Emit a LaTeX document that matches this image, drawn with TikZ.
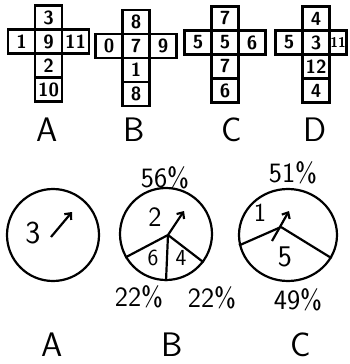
\documentclass[tikz,border=0pt]{standalone}
\usepackage{fontspec}
\usepackage{tikz}
\usetikzlibrary{arrows.meta,positioning,shapes.geometric}

\begin{document}
\begin{tikzpicture}[x=1pt, y=-1pt, node distance=0pt, line width=2.2pt,
  >={Straight Barb[length=5pt,width=9pt]},
  cell/.style={draw, line width=2.4pt, outer sep=0pt, inner sep=0pt,
    minimum width=27pt, minimum height=24pt, font=\sffamily\bfseries\fontsize{19}{19}\selectfont},
  netname/.style={font=\sffamily\fontsize{34}{34}\selectfont, inner sep=0pt},
  spinner/.style={draw, circle, line width=2.2pt, inner sep=0pt, minimum size=92pt},
  num/.style={font=\sffamily\fontsize{#1}{#1}\selectfont, inner sep=0pt},
  pct/.style={font=\sffamily\fontsize{28}{28}\selectfont, inner sep=0pt}]
  \useasboundingbox (0,0) rectangle (349,364);

  % nets
  \node[cell] (A9) at (48.5,41.5) {9};
  \node[cell, above=of A9] (A3) {3};
  \node[cell, left=of A9] (A1) {1};
  \node[cell, right=of A9] (A11) {11};
  \node[cell, below=of A9] (A2) {2};
  \node[cell, below=of A2] (A10) {10};

  \node[cell] (B7) at (136,46) {7};
  \node[cell, above=of B7] (B8) {8};
  \node[cell, left=of B7] (B0) {0};
  \node[cell, right=of B7] (B9) {9};
  \node[cell, below=of B7] (B1) {1};
  \node[cell, below=of B1] (B8b) {8};

  \node[cell] (C5) at (225,42.5) {5};
  \node[cell, above=of C5] (C7) {7};
  \node[cell, left=of C5] (C5b) {5};
  \node[cell, right=of C5] (C6) {6};
  \node[cell, below=of C5] (C7b) {7};
  \node[cell, below=of C7b] (C6b) {6};

  \node[cell] (D3) at (316,42.5) {3};
  \node[cell, above=of D3] (D4) {4};
  \node[cell, left=of D3] (D5) {5};
  \node[cell, right=of D3, minimum width=17pt, font=\sffamily\bfseries\fontsize{14}{14}\selectfont] (D11) {11};
  \node[cell, below=of D3] (D12) {12};
  \node[cell, below=of D12] (D4b) {4};

  \node[netname] (nA) at (47,130) {A};
  \node[netname] (nB) at (134,130) {B};
  \node[netname] (nC) at (232,130) {C};
  \node[netname] (nD) at (315,130) {D};

  % spinners
  \node[spinner] (sA) at (53,235) {};
  \node[num=32] (sA3) at (33,233) {3};
  \coordinate (aA) at (51,237);
  \coordinate (tA) at (72,212);
  \draw[->] (aA) -- (tA);

  \node[spinner] (sB) at (166,234) {};
  \coordinate (jB) at (168,235);
  \draw (jB) -- (sB.210) (jB) -- (sB.270) (jB) -- (sB.323);
  \node[num=28] (sB2) at (155,217) {2};
  \node[num=23] (sB6) at (153,258) {6};
  \node[num=23] (sB4) at (181,258) {4};
  \coordinate (tB) at (184,211);
  \draw[->] (jB) -- (tB);
  \node[pct] (pB1) at (165,178) {56\%};
  \node[pct] (pB2) at (139,297) {22\%};
  \node[pct] (pB3) at (212,298) {22\%};

  \node[spinner, ellipse, minimum width=98pt, minimum height=92pt] (sC) at (288,235) {};
  \coordinate (jC) at (281,227);
  \draw (jC) -- (sC.192) (jC) -- (sC.332);
  \node[num=26] (sC1) at (260,213) {1};
  \node[num=30] (sC5) at (285,257) {5};
  \coordinate (aC) at (272,241);
  \coordinate (tC) at (289,211);
  \draw[->] (aC) -- (tC);
  \node[pct] (pC1) at (293,173) {51\%};
  \node[pct] (pC2) at (298,300) {49\%};

  \node[netname] (lA) at (52,345) {A};
  \node[netname] (lB) at (172,345) {B};
  \node[netname] (lC) at (301,345) {C};
\end{tikzpicture}
\end{document}
